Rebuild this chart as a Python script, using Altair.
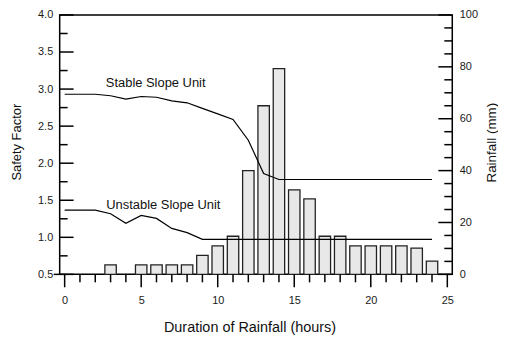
import altair as alt
import pandas as pd

# ---------------- data ----------------
hours = list(range(0, 25))
rain_mm = [0, 0, 0, 3.7, 0, 3.7, 3.7, 3.7, 3.7, 7.3, 11.0, 14.7, 40.0, 65.0, 79.3,
           32.6, 29.1, 14.7, 14.7, 11.0, 11.0, 11.0, 11.0, 10.1, 5.1]
stable_sf = [2.93, 2.93, 2.93, 2.91, 2.865, 2.90, 2.89, 2.84, 2.815, 2.74, 2.665,
             2.59, 2.31, 1.86, 1.78, 1.78, 1.78, 1.78, 1.78, 1.78, 1.78, 1.78,
             1.78, 1.78, 1.78]
unstable_sf = [1.366, 1.366, 1.366, 1.318, 1.188, 1.295, 1.255, 1.12, 1.063, 0.973,
               0.973, 0.973, 0.973, 0.973, 0.973, 0.973, 0.973, 0.973, 0.973, 0.973,
               0.973, 0.973, 0.973, 0.973, 0.973]
label_text = ["Stable Slope Unit", "Unstable Slope Unit"]
label_hour = [2.69, 2.72]
label_sf = [3.08, 1.44]

x_major_ticks = [0, 5, 10, 15, 20, 25]
x_minor_ticks = [1, 2, 3, 4, 6, 7, 8, 9, 11, 12, 13, 14, 16, 17, 18, 19, 21, 22, 23, 24]
sf_major_ticks = [0.5, 1.0, 1.5, 2.0, 2.5, 3.0, 3.5, 4.0]
sf_minor_ticks = [0.75, 1.25, 1.75, 2.25, 2.75, 3.25, 3.75]
rain_major_ticks = [0, 20, 40, 60, 80, 100]
rain_minor_ticks = [5, 10, 15, 25, 30, 35, 45, 50, 55, 65, 70, 75, 85, 90, 95]

# ---------------- styling ----------------
W, H = 395, 261
FONT = "Liberation Sans"
LAB = "#1a1a1a"
TW = 1.5

xscale = alt.Scale(domain=[0, 25], nice=False, zero=False)
sfscale = alt.Scale(domain=[0.5, 4.0], nice=False, zero=False)
rscale = alt.Scale(domain=[0, 100], nice=False)

common_axis = dict(ticks=False, tickSize=0, domain=False, grid=False,
                   labelFont=FONT, labelFontSize=11, labelColor=LAB,
                   labelFlush=False, labelOverlap=False,
                   titleFont=FONT, titleFontWeight="normal",
                   titleColor="#111111", titleAlign="center", titleBaseline="middle")

xaxis = alt.Axis(values=x_major_ticks, format="d", labelPadding=26,
                 labelBaseline="middle", title="Duration of Rainfall (hours)",
                 titleFontSize=14.5, titleX=191, titleY=53, **common_axis)
sfaxis = alt.Axis(orient="left", values=sf_major_ticks, format=".1f", labelPadding=7,
                  title="Safety Factor", titleFontSize=13, titleX=-43, titleY=127.5,
                  titleAngle=270, **common_axis)
raxis = alt.Axis(orient="right", values=rain_major_ticks, format="d", labelPadding=7,
                 title="Rainfall (mm)", titleFontSize=13.5, titleX=39, titleY=128,
                 titleAngle=270, **common_axis)

X = alt.X("hour:Q", scale=xscale, axis=xaxis)
Y_sf = alt.Y("sf:Q", scale=sfscale, axis=sfaxis)
Y_rain = alt.Y("rain:Q", scale=rscale, axis=raxis)

# ---------------- rain group ----------------
bars_df = pd.DataFrame({"hour": hours, "rain": rain_mm})
bars = alt.Chart(bars_df).transform_filter("datum.rain > 0").mark_bar(
    size=11.5, fill="#e8e8e8", stroke="#222222", strokeWidth=1.3
).encode(x=X, y=Y_rain)

rmaj = alt.Chart(pd.DataFrame({"rain": rain_major_ticks})).mark_rule(
    color="black", strokeWidth=TW).encode(y=Y_rain, x=alt.value(W - 14), x2=alt.value(W))
rmin = alt.Chart(pd.DataFrame({"rain": rain_minor_ticks})).mark_rule(
    color="black", strokeWidth=TW).encode(y=Y_rain, x=alt.value(W - 8), x2=alt.value(W))

rain_group = alt.layer(bars, rmaj, rmin)

# ---------------- safety-factor group ----------------
lines_df = pd.DataFrame({
    "hour": hours + hours,
    "sf": stable_sf + unstable_sf,
    "series": ["Stable"] * len(hours) + ["Unstable"] * len(hours),
})
lines = alt.Chart(lines_df).mark_line(color="black", strokeWidth=1.2).encode(
    x=X, y=Y_sf, detail="series:N")

labels = alt.Chart(pd.DataFrame({"hour": label_hour, "sf": label_sf, "label": label_text})).mark_text(
    align="left", baseline="middle", font=FONT, fontSize=13, color="#111111"
).encode(x=X, y=Y_sf, text="label:N")

smaj = alt.Chart(pd.DataFrame({"sf": sf_major_ticks})).mark_rule(
    color="black", strokeWidth=TW).encode(y=Y_sf, x=alt.value(0), x2=alt.value(14))
smin = alt.Chart(pd.DataFrame({"sf": sf_minor_ticks})).mark_rule(
    color="black", strokeWidth=TW).encode(y=Y_sf, x=alt.value(0), x2=alt.value(8))
sout = alt.Chart(pd.DataFrame({"sf": [0.5]})).mark_rule(
    color="black", strokeWidth=TW).encode(y=Y_sf, x=alt.value(-6), x2=alt.value(0))

xmaj = alt.Chart(pd.DataFrame({"hour": x_major_ticks})).mark_rule(
    color="black", strokeWidth=TW).encode(x=X, y=alt.value(H), y2=alt.value(H + 13))
xmin = alt.Chart(pd.DataFrame({"hour": x_minor_ticks})).mark_rule(
    color="black", strokeWidth=TW).encode(x=X, y=alt.value(H), y2=alt.value(H + 8))

sf_group = alt.layer(lines, labels, smaj, smin, sout, xmaj, xmin)

chart = alt.layer(rain_group, sf_group).resolve_scale(y="independent").properties(
    width=W, height=H,
    padding={"left": 52, "top": 6, "right": 46, "bottom": 60},
    autosize=alt.AutoSizeParams(type="none"),
    background="white",
).configure_view(stroke="black", strokeWidth=TW)

chart.save("out.html", embed_options={"renderer": "svg", "actions": False})
